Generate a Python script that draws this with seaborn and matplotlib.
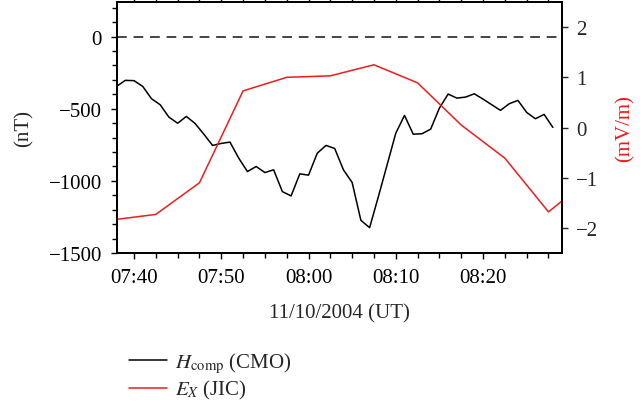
import matplotlib
matplotlib.use("Agg")
import matplotlib.pyplot as plt
import matplotlib.dates as mdates
import matplotlib.ticker as ticker
from matplotlib.lines import Line2D
import seaborn as sns
import pandas as pd

# H component at CMO, 1-min samples from 07:38 to 08:28 UT (nT)
h_times = pd.date_range("2004-11-10 07:38", periods=51, freq="min")
h_comp = [-345, -303, -305, -345, -430, -472, -558, -600, -553, -602,
          -676, -754, -740, -731, -842, -935, -900, -942, -923, -1074,
          -1104, -951, -960, -808, -754, -775, -923, -1011, -1273, -1324,
          -1110, -890, -669, -546, -676, -673, -641, -495, -398, -426,
          -419, -396, -433, -472, -511, -465, -442, -525, -569, -539, -629]

# E_X at JIC, 5-min samples (mV/m)
e_times = pd.date_range("2004-11-10 07:37:30", periods=12, freq="5min")
e_x = [-1.84, -1.73, -1.10, 0.73, 1.00, 1.03, 1.25, 0.89, 0.05, -0.61, -1.68, -0.98]

sns.set_theme(style="ticks")
plt.rcParams["font.family"] = ["Liberation Serif", "DejaVu Serif"]
plt.rcParams["mathtext.fontset"] = "stix"
plt.rcParams["font.size"] = 15

fig = plt.figure(figsize=(6.44, 4.02), dpi=100)
ax = fig.add_axes([0.181, 0.368, 0.691, 0.6245])
ax2 = ax.twinx()

dh = pd.DataFrame({"t": h_times, "v": h_comp})
de = pd.DataFrame({"t": e_times, "v": e_x})
sns.lineplot(data=dh, x="t", y="v", ax=ax, color="black", lw=1.1)
sns.lineplot(data=de, x="t", y="v", ax=ax2, color="#ee1c1c", lw=1.1)
ax.axhline(0, color="#444444", lw=1.4, ls=(0, (5, 3.5)))

ax.set_xlim(pd.Timestamp("2004-11-10 07:38"), pd.Timestamp("2004-11-10 08:29"))
ax.set_ylim(-1500, 240)
ax2.set_ylim(-2.5, 2.5)

ax.xaxis.set_major_locator(mdates.MinuteLocator(byminute=[0, 10, 20, 30, 40, 50]))
ax.xaxis.set_major_formatter(mdates.DateFormatter("%H:%M"))
ax.xaxis.set_minor_locator(ticker.AutoMinorLocator(4))
ax.yaxis.set_major_locator(ticker.MultipleLocator(500))
ax.yaxis.set_minor_locator(ticker.MultipleLocator(100))
ax.yaxis.set_major_formatter(ticker.FuncFormatter(lambda v, p: f"{int(v)}".replace("-", "\u2212")))
ax2.yaxis.set_major_locator(ticker.MultipleLocator(1))

for a in (ax, ax2):
    for s in a.spines.values():
        s.set_linewidth(1.3)
        s.set_color("black")
ax.tick_params(which="both", direction="out", top=True, width=1, colors="black", labelsize=15)
ax.tick_params(which="major", length=4.5, pad=6)
ax.tick_params(which="minor", length=3.5)
ax2.tick_params(which="major", direction="out", length=4.5, width=1, pad=6, labelsize=15)

ax.set_xlabel("11/10/2004 (UT)", fontsize=15, labelpad=12)
ax.set_ylabel("(nT)", fontsize=15, labelpad=11)
ax2.set_ylabel("(mV/m)", fontsize=15, color="#ee1c1c", labelpad=12)

handles = [Line2D([], [], color="black", lw=1.1), Line2D([], [], color="#ee1c1c", lw=1.1)]
labels = [r"$H_{\rm comp}$ (CMO)", r"$E_X$ (JIC)"]
fig.legend(handles, labels, loc="upper left", bbox_to_anchor=(0.188, 0.145),
           frameon=False, fontsize=15, handlelength=1.8, handletextpad=0.4,
           labelspacing=0.15, borderaxespad=0)

fig.savefig("out.png", dpi=100)
